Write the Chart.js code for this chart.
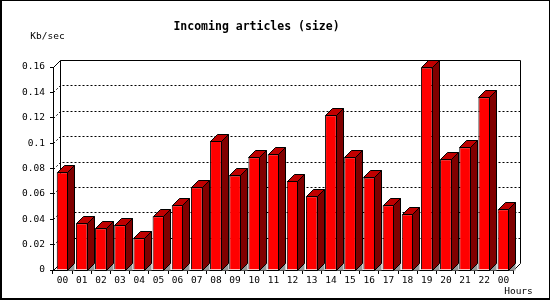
<!DOCTYPE html>
<html lang="en">
<head>
    <meta charset="UTF-8">
    <title>Incoming articles (size)</title>
    <style>
        body { margin: 0; background: #fff; }
        canvas { display: block; }
    </style>
</head>
<body>
    <canvas id="myChart" width="550" height="300"></canvas>

    <script src="https://cdn.jsdelivr.net/npm/chart.js"></script>
    <script>
        // data
        var hours = ['00', '01', '02', '03', '04', '05', '06', '07', '08', '09', '10', '11',
                     '12', '13', '14', '15', '16', '17', '18', '19', '20', '21', '22', '00'];
        var sizeKb = [0.077, 0.0368, 0.0329, 0.0352, 0.025, 0.0423, 0.051, 0.0652, 0.1019, 0.0745, 0.0889, 0.0912,
                      0.0701, 0.0581, 0.1219, 0.0888, 0.073, 0.051, 0.0439, 0.1597, 0.0872, 0.0967, 0.1361, 0.0478];
        var yTicks = [0, 0.02, 0.04, 0.06, 0.08, 0.1, 0.12, 0.14, 0.16];

        var depth = 7;
        var monoFont = '"DejaVu Sans Mono", "Liberation Mono", monospace';

        // white background, frame, back wall, dotted grid
        var wallPlugin = {
            id: 'wall',
            beforeDraw: function (chart) {
                var c = chart.ctx;
                c.save();
                c.fillStyle = '#fff';
                c.fillRect(0, 0, chart.width, chart.height);
                c.fillStyle = '#000';
                c.fillRect(0, 0, chart.width, 1);
                c.fillRect(0, 0, 2, chart.height);
                c.fillRect(chart.width - 1, 0, 1, chart.height);
                c.fillRect(0, chart.height - 2, chart.width, 2);
                c.restore();
            },
            beforeDatasetsDraw: function (chart) {
                var c = chart.ctx;
                var a = chart.chartArea;
                var ys = chart.scales.y;
                var l = Math.round(a.left) + 0.5, r = Math.round(a.right) + 0.5;
                var t = Math.round(a.top) + 0.5, b = Math.round(a.bottom) + 0.5;
                c.save();
                c.strokeStyle = '#000';
                c.lineWidth = 1;

                // dotted grid lines on the back wall
                c.setLineDash([2, 2]);
                yTicks.forEach(function (v) {
                    if (v === 0 || v === yTicks[yTicks.length - 1]) return;
                    var py = Math.round(ys.getPixelForValue(v)) + 0.5;
                    c.beginPath();
                    c.moveTo(l + depth + 2, py - depth);
                    c.lineTo(r + depth, py - depth);
                    c.stroke();
                    c.beginPath();
                    c.moveTo(l, py);
                    c.lineTo(l + depth, py - depth);
                    c.stroke();
                });
                c.setLineDash([]);

                // wall outline
                c.beginPath();
                c.moveTo(l + depth, b - depth);
                c.lineTo(l + depth, t - depth);
                c.lineTo(r + depth, t - depth);
                c.lineTo(r + depth, b - depth);
                c.moveTo(l, t);
                c.lineTo(l + depth, t - depth);
                c.moveTo(l, b);
                c.lineTo(l + depth, b - depth);
                c.moveTo(r, b);
                c.lineTo(r + depth, b - depth);
                c.stroke();

                // axis labels
                c.fillStyle = '#000';
                c.font = '9.5px ' + monoFont;
                c.textAlign = 'center';
                c.textBaseline = 'middle';
                c.fillText('Kb/sec', 47.5, 37);
                c.fillText('Hours', 518.5, 291.5);
                c.restore();
            }
        };

        // top and side faces of every bar
        var bar3dPlugin = {
            id: 'bar3d',
            afterDatasetsDraw: function (chart) {
                var c = chart.ctx;
                var meta = chart.getDatasetMeta(0);
                c.save();
                c.strokeStyle = '#000';
                c.lineWidth = 1;
                meta.data.forEach(function (bar) {
                    var L = Math.round(bar.x - bar.width / 2) + 0.5;
                    var R = Math.round(bar.x + bar.width / 2) - 0.5;
                    var T = Math.round(bar.y) + 0.5;
                    var B = Math.round(bar.base) + 0.5;

                    c.fillStyle = '#999';
                    c.beginPath();
                    c.moveTo(R, B);
                    c.lineTo(R + depth, B - depth);
                    c.lineTo(R + depth, B);
                    c.closePath();
                    c.fill();

                    c.fillStyle = '#c00000';
                    c.beginPath();
                    c.moveTo(L, T);
                    c.lineTo(L + depth, T - depth);
                    c.lineTo(R + depth, T - depth);
                    c.lineTo(R, T);
                    c.closePath();
                    c.fill();
                    c.stroke();

                    c.fillStyle = '#800000';
                    c.beginPath();
                    c.moveTo(R, T);
                    c.lineTo(R + depth, T - depth);
                    c.lineTo(R + depth, B - depth);
                    c.lineTo(R, B);
                    c.closePath();
                    c.fill();
                    c.stroke();
                });
                c.restore();
            }
        };

        var ctx = document.getElementById('myChart').getContext('2d');
        var myChart = new Chart(ctx, {
            type: 'bar',
            data: {
                labels: hours,
                datasets: [{
                    data: sizeKb,
                    backgroundColor: '#ff0000',
                    borderColor: '#000',
                    borderWidth: 1,
                    barPercentage: 0.61,
                    categoryPercentage: 1
                }]
            },
            options: {
                responsive: false,
                animation: false,
                devicePixelRatio: 1,
                layout: { padding: { left: 0, right: 37, top: 0, bottom: 0 } },
                plugins: {
                    legend: { display: false },
                    tooltip: { enabled: false },
                    title: {
                        display: true,
                        text: 'Incoming articles (size)',
                        color: '#000',
                        font: { family: monoFont, size: 11.5, weight: 'bold', lineHeight: 1.2 },
                        padding: { top: 20, bottom: 33.2 }
                    }
                },
                scales: {
                    x: {
                        afterFit: function (scale) { scale.height = 30; },
                        grid: {
                            offset: true,
                            drawOnChartArea: false,
                            drawTicks: true,
                            tickLength: 4,
                            color: '#000'
                        },
                        border: { display: true, color: '#000' },
                        ticks: {
                            color: '#000',
                            font: { family: monoFont, size: 9.5 },
                            padding: 1,
                            maxRotation: 0,
                            autoSkip: false
                        }
                    },
                    y: {
                        min: 0,
                        max: 0.16,
                        afterFit: function (scale) { scale.width = 53; },
                        afterBuildTicks: function (scale) {
                            scale.ticks = yTicks.map(function (v) { return { value: v }; });
                        },
                        grid: {
                            drawOnChartArea: false,
                            drawTicks: true,
                            tickLength: 3,
                            color: '#000'
                        },
                        border: { display: true, color: '#000' },
                        ticks: {
                            color: '#000',
                            font: { family: monoFont, size: 9.5 },
                            padding: 5,
                            callback: function (v) { return String(+v.toFixed(2)); }
                        }
                    }
                }
            },
            plugins: [wallPlugin, bar3dPlugin]
        });
    </script>
</body>
</html>
